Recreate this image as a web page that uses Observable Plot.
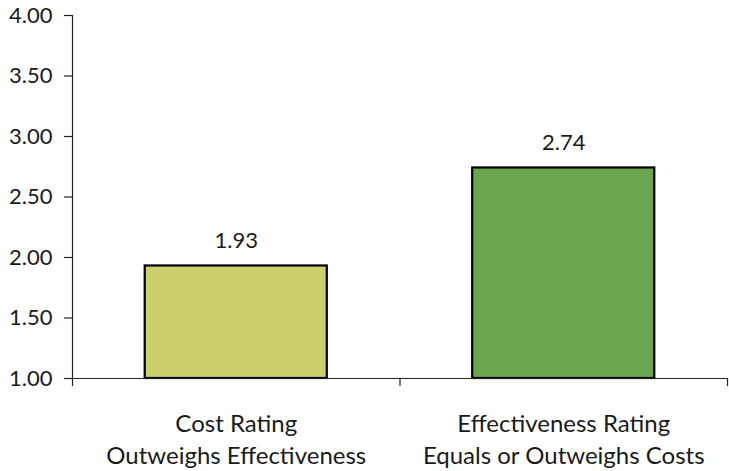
<!DOCTYPE html>
<html>
<head>
<meta charset="utf-8">
<script src="https://cdn.jsdelivr.net/npm/d3@7"></script>
<script src="https://cdn.jsdelivr.net/npm/@observablehq/plot@0.6"></script>
<style>
  html, body { margin: 0; padding: 0; background: #fff; }
</style>
</head>
<body>
<div id="chart"></div>
<script>
const categories = ["Cost Rating\nOutweighs Effectiveness", "Effectiveness Rating\nEquals or Outweighs Costs"];
const values = [1.93, 2.74];
const colors = ["#cbcf69", "#6aa64e"];
const yTicks = [1.0, 1.5, 2.0, 2.5, 3.0, 3.5, 4.0];
const xBoundaries = [0, 1, 2];

const data = categories.map((c, i) => ({i, label: c, value: values[i], color: colors[i]}));
const pad = 0.222;

const chart = Plot.plot({
  width: 729,
  height: 471,
  marginLeft: 72,
  marginRight: 2,
  marginTop: 15,
  marginBottom: 93,
  style: {fontFamily: "Lato, 'Open Sans', sans-serif", fontSize: "22px", color: "#1a1a1a", background: "#fff"},
  x: {domain: [0, 2], axis: null},
  y: {domain: [1, 4], axis: null},
  marks: [
    Plot.rectY(data, {
      x1: d => d.i + pad, x2: d => d.i + 1 - pad,
      y1: 1, y2: "value",
      fill: "color", stroke: "#000", strokeWidth: 2.2
    }),
    Plot.ruleX([0], {stroke: "#222", strokeWidth: 1.2}),
    Plot.ruleY([1], {stroke: "#222", strokeWidth: 1.2}),
    Plot.axisY({ticks: yTicks, tickSize: 8, tickPadding: 12, tickFormat: d => d.toFixed(2), label: null,
                fontSize: 22, stroke: "#222", strokeWidth: 1.2, color: "#1a1a1a"}),
    Plot.axisX({ticks: xBoundaries, tickSize: 8, tickFormat: () => "", label: null, stroke: "#222", strokeWidth: 1.2}),
    Plot.text(data, {x: d => d.i + 0.5, y: "value", text: d => d.value.toFixed(2),
                     dy: -25, fontSize: 22, fill: "#1a1a1a"}),
    Plot.text(data, {x: d => d.i + 0.5, y: 1, text: "label", dy: 31,
                     lineAnchor: "top", lineHeight: 1.33, fontSize: 24, fill: "#1a1a1a"})
  ]
});
document.getElementById("chart").appendChild(chart);
</script>
</body>
</html>
